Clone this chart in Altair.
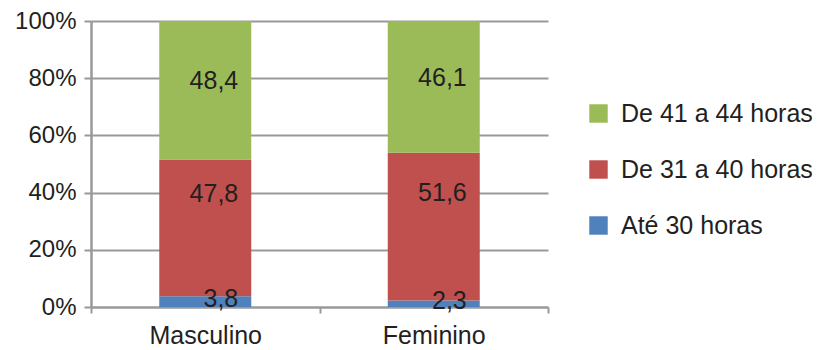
import altair as alt
import pandas as pd

# Share of workers by weekly working hours, per sex
sexes = ["Masculino", "Feminino"]
series = ["Até 30 horas", "De 31 a 40 horas", "De 41 a 44 horas"]
masculino = [3.8, 47.8, 48.4]
feminino = [2.3, 51.6, 46.1]

colors = {"De 41 a 44 horas": "#9BBB59", "De 31 a 40 horas": "#C0504D", "Até 30 horas": "#4F81BD"}
legend_order = ["De 41 a 44 horas", "De 31 a 40 horas", "Até 30 horas"]

rows = []
for sex, vals in zip(sexes, [masculino, feminino]):
    for i, (s, v) in enumerate(zip(series, vals)):
        rows.append({"sexo": sex, "faixa": s, "valor": v, "ordem": i,
                     "rotulo": f"{v:.1f}".replace(".", ",")})
df = pd.DataFrame(rows)

FONT = "Liberation Sans"
TXT = "#231f20"
GRID = "#999999"

x = alt.X("sexo:N", sort=sexes, title=None,
          scale=alt.Scale(paddingInner=0, paddingOuter=0),
          axis=alt.Axis(labelAngle=0, tickBand="extent", grid=False,
                        domainColor=GRID, domainWidth=2, tickColor=GRID,
                        tickWidth=2, tickSize=6, labelPadding=10,
                        labelFontSize=25, labelFont=FONT, labelColor=TXT))

bars = alt.Chart(df).mark_bar(size=92).encode(
    x=x,
    y=alt.Y("sum(valor):Q", stack="zero", title=None,
            scale=alt.Scale(domain=[0, 100], nice=False),
            axis=alt.Axis(values=[0, 20, 40, 60, 80, 100],
                          labelExpr="datum.value + '%'",
                          gridColor=GRID, gridWidth=2,
                          domainColor=GRID, domainWidth=2.5,
                          tickColor=GRID, tickWidth=2, tickSize=7,
                          labelPadding=8, labelFontSize=24,
                          labelFont=FONT, labelColor=TXT)),
    color=alt.Color("faixa:N",
                    scale=alt.Scale(domain=legend_order,
                                    range=[colors[k] for k in legend_order]),
                    legend=alt.Legend(title=None, orient="none",
                                      legendX=495, legendY=80,
                                      symbolType="square", symbolSize=340,
                                      symbolStrokeWidth=0, symbolOpacity=1,
                                      labelFontSize=25, labelFont=FONT,
                                      labelColor=TXT, labelOffset=10,
                                      labelLimit=400, rowPadding=30)),
    order=alt.Order("ordem:Q", sort="ascending"),
)

# Value labels: stacked midpoints, nudged per band
shifts = {"Até 30 horas": -3, "De 31 a 40 horas": -34, "De 41 a 44 horas": -9}
base = alt.Chart(df).transform_stack(
    stack="valor", groupby=["sexo"], as_=["y0", "y1"],
    sort=[alt.SortField("ordem", order="ascending")]
).transform_calculate(mid="(datum.y0 + datum.y1) / 2")

labels = []
for s in series:
    labels.append(
        base.transform_filter(alt.datum.faixa == s).mark_text(
            align="right", baseline="middle", dx=33, dy=shifts[s],
            fontSize=25, font=FONT, color=TXT
        ).encode(x=alt.X("sexo:N", sort=sexes), y=alt.Y("mid:Q"), text="rotulo:N")
    )

chart = alt.layer(bars, *labels).properties(
    width=457, height=286,
    background="white",
    padding={"left": 91, "top": 21, "right": 277, "bottom": 43},
    autosize=alt.AutoSizeParams(type="none"),
).configure_view(strokeWidth=0, stroke="transparent")

chart.save("out.html", embed_options={"renderer": "svg", "actions": False})
